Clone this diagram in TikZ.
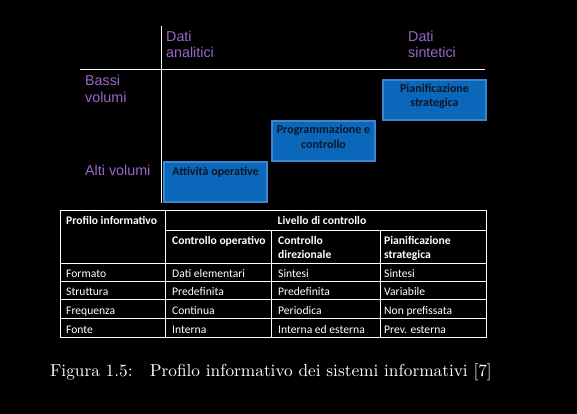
\documentclass[tikz,border=0pt]{standalone}
\usepackage{fontspec}
\newfontfamily\carlito{Carlito}
\newfontfamily\arialish{Liberation Sans}
\newfontfamily\capfont[Extension=.otf]{lmroman10-regular}
\definecolor{lblpurple}{HTML}{9966CC}
\definecolor{boxfill}{HTML}{0B67B9}
\definecolor{boxedge}{HTML}{3A86D0}
\definecolor{boxtext}{HTML}{0D1626}
\begin{document}
\begin{tikzpicture}[x=1pt,y=-1pt,
  axis/.style={draw=white,line width=1pt},
  purp/.style={text=lblpurple,font=\arialish\fontsize{14.3}{16}\selectfont,inner sep=0pt,anchor=base west},
  blockbox/.style={draw=boxedge,fill=boxfill,line width=1.2pt,minimum width=103pt,minimum height=40pt,inner sep=0pt},
  blocktxt/.style={text=boxtext,font=\carlito\bfseries\fontsize{12}{14}\selectfont,inner sep=0pt,anchor=base,align=center},
  grid/.style={draw=white,line width=0.8pt},
  cell/.style={text=white,font=\carlito\fontsize{11.6}{14}\selectfont,inner sep=0pt,anchor=base west},
  hcell/.style={text=white,font=\carlito\bfseries\fontsize{11.6}{14}\selectfont,inner sep=0pt,anchor=base west},
]
\fill[black] (0,0) rectangle (577,414);
\useasboundingbox (0,0) rectangle (577,414);
% axes
\coordinate (vt) at (161,26); \coordinate (vb) at (161,203);
\coordinate (hl) at (80,70); \coordinate (hr) at (485,70);
\draw[axis] (vt) -- (vb);
\draw[axis] (hl) -- (hr);
% purple labels
\node[purp] (da1) at (166,42) {Dati};
\node[purp] (da2) at (166,58) {analitici};
\node[purp] (ds1) at (408,42) {Dati};
\node[purp] (ds2) at (408,58) {sintetici};
\node[purp] (bv1) at (85,86) {Bassi};
\node[purp] (bv2) at (85,103) {volumi};
\node[purp] (av) at (85,175) {Alti volumi};
% blocks
\node[blockbox] (b1) at (215.5,182) {};
\node[blockbox] (b2) at (323.5,141) {};
\node[blockbox] (b3) at (434.5,100) {};
\node[blocktxt] (t1) at (215.5,175) {Attività operative};
\node[blocktxt] (t2a) at (323.5,134) {Programmazione e};
\node[blocktxt] (t2b) at (323.5,148) {controllo};
\node[blocktxt] (t3a) at (434.5,93) {Pianificazione};
\node[blocktxt] (t3b) at (434.5,107) {strategica};
% table grid
\draw[grid] (60,210) rectangle (486,337);
\draw[grid] (165,210) -- (165,337);
\draw[grid] (271,230) -- (271,337);
\draw[grid] (380,230) -- (380,337);
\draw[grid] (165,230) -- (486,230);
\foreach \yy in {263,281,299,318} \draw[grid] (60,\yy) -- (486,\yy);
% table header
\node[hcell] (h0) at (66,224) {Profilo informativo};
\node[hcell,anchor=base] (h1) at (322,224) {Livello di controllo};
\node[hcell] (h2) at (172,244) {Controllo operativo};
\node[hcell] (h3a) at (278,244) {Controllo};
\node[hcell] (h3b) at (278,258) {direzionale};
\node[hcell] (h4a) at (384,244) {Pianificazione};
\node[hcell] (h4b) at (384,258) {strategica};
% rows
\node[cell] at (66,277) {Formato};
\node[cell] at (172,277) {Dati elementari};
\node[cell] at (278,277) {Sintesi};
\node[cell] at (384,277) {Sintesi};
\node[cell] at (66,295) {Struttura};
\node[cell] at (172,295) {Predefinita};
\node[cell] at (278,295) {Predefinita};
\node[cell] at (384,295) {Variabile};
\node[cell] at (66,314) {Frequenza};
\node[cell] at (172,314) {Continua};
\node[cell] at (278,314) {Periodica};
\node[cell] at (384,314) {Non prefissata};
\node[cell] at (66,333) {Fonte};
\node[cell] at (172,333) {Interna};
\node[cell] at (278,333) {Interna ed esterna};
\node[cell] at (384,333) {Prev. esterna};
% caption
\node[text=white,font=\capfont\fontsize{17.28}{21}\selectfont,inner sep=0pt,anchor=base west] (cap) at (50,376.5) {Figura 1.5:\quad Profilo informativo dei sistemi informativi [7]};
\end{tikzpicture}
\end{document}
